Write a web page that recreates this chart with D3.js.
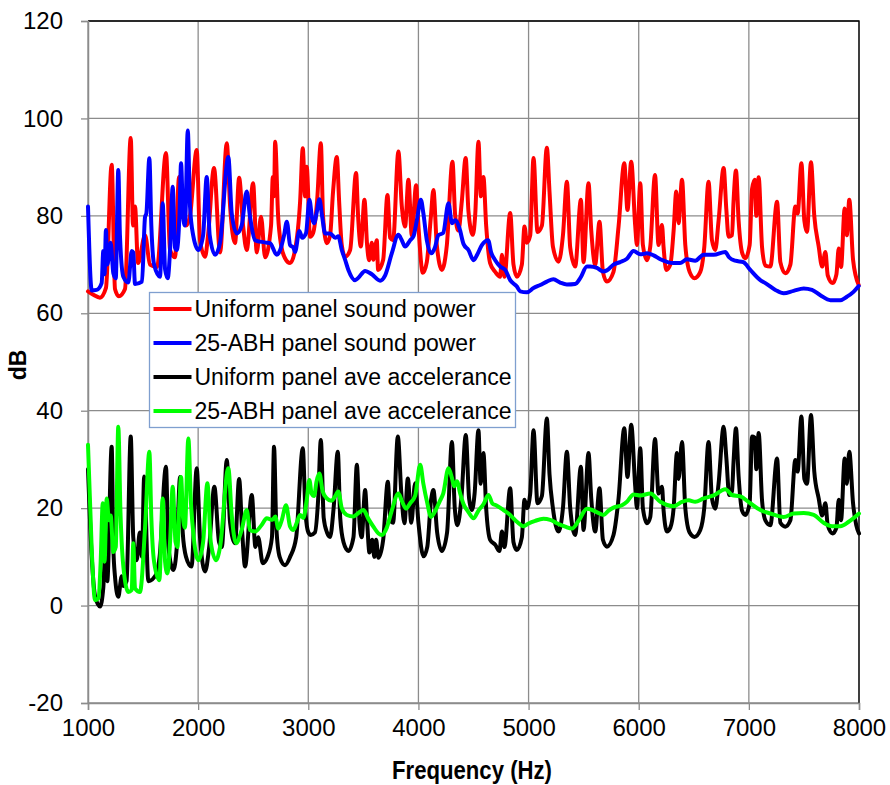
<!DOCTYPE html>
<html>
<head>
<meta charset="utf-8">
<script src="https://cdn.jsdelivr.net/npm/d3@7"></script>
<style>
  body { margin: 0; background: #fff; }
  text { font-family: "Liberation Sans", Arial, sans-serif; fill: #000; }
</style>
</head>
<body>
<script>
//DATA - [frequency (Hz), dB]
var uniformPower = [[1000,64.5],[1048,63.8],[1109,63.2],[1163,65.2],[1215,90.5],[1245,65],[1280,63.5],[1336,65],[1388,96],[1409,78],[1427,81.9],[1454,70.3],[1518,76],[1563,70],[1627,69.5],[1708,92.9],[1745,73],[1790,71.5],[1827,88],[1863,82],[1890,78],[1926,80],[1987,93.5],[2017,75],[2063,71.6],[2090,76],[2144,89.8],[2199,72.5],[2260,94.9],[2290,82],[2335,74.4],[2372,87.8],[2408,78],[2441,73],[2499,86.7],[2532,72.5],[2571,79.8],[2608,71.5],[2662,78],[2678,88],[2689,84],[2699,95.2],[2726,80],[2753,74],[2789,71.3],[2835,70.3],[2880,73],[2926,83],[2950,93.9],[2971,84],[2986,90.1],[3016,75.7],[3044,76.5],[3080,83],[3114,94.9],[3134,80],[3168,74.4],[3198,76],[3225,85],[3259,92.1],[3280,83],[3304,74],[3334,71.6],[3380,73],[3434,88.8],[3452,80],[3477,73.7],[3510,83.3],[3534,74],[3552,70.9],[3577,74.5],[3591,71],[3622,75],[3634,68.9],[3680,71],[3719,84.3],[3743,75.5],[3770,75],[3818,93.2],[3849,82],[3879,77.8],[3909,87.4],[3940,76],[3979,86.3],[4000,78],[4040,68.3],[4076,70.5],[4113,79.8],[4136,85.3],[4167,74],[4213,68.9],[4258,74],[4309,91.1],[4334,80],[4363,77],[4394,83],[4429,91.9],[4454,81],[4494,76.1],[4515,80],[4545,95.2],[4567,84],[4590,88],[4615,78],[4651,70.3],[4697,68.5],[4742,67.5],[4758,72],[4781,67.5],[4833,80.6],[4863,70],[4894,67.5],[4939,70],[4963,77.8],[4985,74.5],[5015,76],[5045,91.9],[5081,76.7],[5121,78],[5166,94],[5190,85],[5221,73.7],[5272,70.6],[5312,76],[5348,87],[5378,73.5],[5423,69.6],[5475,83.3],[5499,70.5],[5544,86.7],[5569,77],[5605,70],[5644,78.8],[5675,68.5],[5711,66.5],[5771,68.5],[5817,77.8],[5869,90.8],[5898,81.2],[5932,91.1],[5968,78],[5984,74],[6014,86.7],[6038,74],[6075,70.9],[6105,73.7],[6148,88.4],[6180,74],[6211,78.1],[6226,73.5],[6250,68.9],[6287,70],[6317,77],[6341,85],[6362,78.5],[6393,87.4],[6423,74],[6462,68.5],[6507,67.2],[6559,68.5],[6595,73.5],[6634,87],[6665,75],[6695,73],[6725,79],[6771,89.8],[6795,81.5],[6816,75.7],[6847,76],[6861,83],[6883,89.3],[6907,79],[6938,72.5],[6968,71.3],[7007,74],[7029,85.5],[7053,87.4],[7068,80],[7089,87.9],[7120,73.5],[7150,69.8],[7195,69.6],[7256,82.9],[7286,70.5],[7331,68.2],[7377,70],[7422,81.9],[7443,80.5],[7477,90.8],[7504,79],[7528,76.7],[7564,91],[7594,80],[7634,73.7],[7665,69.6],[7695,72.6],[7716,67.8],[7761,66.2],[7795,68],[7816,73.3],[7837,69.5],[7870,81.5],[7889,76],[7912,83.3],[7946,71],[7997,65.8]];

var abhPower = [[1000,81.9],[1034,64.7],[1079,64.8],[1124,66.2],[1139,72.8],[1150,68],[1163,77.1],[1175,70],[1206,74.5],[1230,68.2],[1252,67.2],[1275,89.4],[1290,76],[1321,67.5],[1366,66.3],[1397,72.8],[1411,72.5],[1427,66],[1490,66.5],[1518,79.8],[1530,80.5],[1557,91.8],[1575,78],[1600,70],[1654,67.5],[1678,82.6],[1700,69],[1724,67.2],[1745,73],[1769,86],[1790,73.5],[1806,73],[1830,80],[1845,90.8],[1863,80],[1880,78],[1906,97.5],[1926,82],[1955,76],[2002,73],[2045,76],[2078,88],[2105,76],[2154,72],[2199,74.5],[2274,92.1],[2305,80.5],[2351,76.4],[2395,78],[2441,85],[2470,80],[2517,75],[2562,74.7],[2623,74.5],[2653,74.4],[2714,72],[2745,73],[2780,76],[2805,78.8],[2835,74],[2865,73.5],[2880,72.6],[2919,76.9],[2945,75.5],[2980,76.5],[3010,83.3],[3035,79.5],[3053,78.5],[3075,80.5],[3101,83.4],[3125,80],[3153,76.4],[3198,76.4],[3244,75.5],[3273,75.8],[3304,73],[3334,71],[3364,68.9],[3425,66.8],[3455,67.3],[3516,68.7],[3577,68],[3652,66.7],[3698,67.8],[3758,72.3],[3818,76.1],[3849,75],[3879,73.7],[3925,75],[3955,75.8],[3985,79],[4022,83.3],[4045,80.5],[4076,75],[4115,72.3],[4150,73.5],[4180,76],[4225,76.5],[4273,82.6],[4304,78.5],[4334,79.1],[4373,77.4],[4410,74.2],[4454,73],[4500,70.9],[4533,72],[4576,74],[4633,75],[4660,72.5],[4697,70.9],[4742,69.6],[4788,68.9],[4833,66.8],[4894,65.5],[4924,64.5],[4985,64.3],[5045,65.2],[5106,65.8],[5166,66.5],[5226,67],[5287,66.3],[5348,65.9],[5423,66],[5469,67.2],[5530,69.6],[5560,69.6],[5621,69.3],[5678,68.6],[5711,68.8],[5771,70],[5832,70.5],[5893,71.2],[5953,72.8],[6014,72.1],[6075,72.3],[6135,71.9],[6196,71.1],[6317,70.3],[6375,70.3],[6438,71.1],[6513,70.8],[6589,72],[6680,72],[6786,72.6],[6820,71.5],[6877,70.8],[6950,70.5],[7013,68.9],[7104,66.8],[7150,66.2],[7241,64.8],[7316,64.1],[7406,64.6],[7498,65.1],[7573,64.8],[7649,63.7],[7740,62.7],[7831,62.7],[7890,63.4],[7950,64.4],[7997,65.6]];

var uniformAccel = [[1000,28],[1034,10],[1064,2],[1109,-0.2],[1139,3.7],[1154,10],[1175,5],[1215,32.6],[1230,12],[1245,6],[1275,1.8],[1306,6],[1321,4],[1350,5],[1388,34.7],[1411,14],[1442,9.3],[1470,15],[1490,10],[1510,26.5],[1548,5],[1624,6.6],[1650,10],[1708,28.5],[1730,12],[1775,7.3],[1806,12],[1836,26.4],[1860,15],[1890,10],[1940,8],[1987,28.2],[2017,14],[2063,7],[2100,12],[2147,24.4],[2190,13],[2215,12],[2260,29.9],[2290,17],[2335,12.8],[2372,26],[2400,15],[2426,8],[2487,22.7],[2520,12],[2545,14],[2587,8.7],[2630,10],[2670,14],[2689,32.6],[2710,16],[2740,10],[2789,8.3],[2835,10],[2890,14],[2950,32.3],[2975,19],[3001,15],[3023,14.5],[3060,15],[3090,22],[3114,34],[3140,18],[3170,15],[3198,14.1],[3230,20],[3268,31.6],[3290,18],[3320,13],[3364,11.2],[3410,14],[3441,28.9],[3465,17],[3485,14],[3516,23.7],[3535,17],[3555,10.9],[3580,13.5],[3600,10],[3616,13.5],[3637,9.8],[3680,13.5],[3722,25.4],[3745,17.5],[3770,17],[3813,34.7],[3845,23],[3873,16.9],[3904,26.1],[3935,17],[3970,25.1],[4000,17],[4046,10.1],[4080,12],[4115,21.7],[4136,23.7],[4170,15],[4213,11.2],[4260,15],[4304,33.6],[4330,20],[4354,16.5],[4390,22],[4430,35],[4460,22],[4485,19.6],[4510,23],[4545,36],[4565,25],[4590,31.3],[4615,20],[4651,13.5],[4697,12.5],[4736,11.2],[4758,15.2],[4781,12],[4833,24.1],[4863,13],[4894,11.4],[4939,14],[4963,21.7],[4985,20],[5015,23],[5045,36],[5081,21],[5121,22.5],[5166,38.4],[5190,27],[5221,20],[5272,15.2],[5312,20],[5348,31.6],[5378,20],[5423,14.5],[5475,28.5],[5499,15.5],[5544,31.3],[5569,22],[5605,15.2],[5644,24.1],[5675,13.5],[5711,12.1],[5771,14.5],[5817,22],[5869,36.4],[5898,26.4],[5932,37.1],[5968,24.5],[5984,20],[6014,32.3],[6038,20],[6075,16.9],[6105,18.2],[6148,34.2],[6180,23],[6211,24.4],[6226,19.5],[6256,15.2],[6287,16],[6317,20],[6347,31.3],[6362,26],[6393,33.6],[6423,20],[6462,15],[6507,14.1],[6559,15.5],[6595,20],[6634,33.6],[6665,22],[6695,19.9],[6725,25],[6771,36.7],[6795,30.5],[6822,22.7],[6847,23.5],[6861,29.5],[6883,36.4],[6907,26.5],[6938,19.5],[6968,18.6],[7007,21],[7029,34.7],[7053,34.5],[7068,28],[7089,35.4],[7120,21.5],[7150,17.5],[7195,16.5],[7256,30.2],[7286,17],[7331,16.2],[7377,17.5],[7422,29.9],[7443,27.5],[7477,38.8],[7504,26],[7528,25],[7564,39.1],[7594,27.5],[7634,22],[7665,18.5],[7695,21],[7716,16.5],[7761,14.8],[7795,16],[7816,21.7],[7837,17.5],[7870,30.2],[7889,25],[7912,31.6],[7946,21],[7975,16.5],[8000,14.8]];

var abhAccel = [[1000,33],[1034,11.4],[1064,1.1],[1095,1.5],[1115,9],[1134,21],[1150,9],[1170,22],[1190,17.5],[1206,18.5],[1230,11],[1252,12],[1275,36.7],[1295,19],[1321,8],[1366,2.8],[1397,3.2],[1411,12.8],[1427,3.5],[1472,2.8],[1518,16],[1557,31.6],[1575,18],[1600,9],[1648,5.2],[1678,22],[1700,9],[1720,6.6],[1745,13],[1769,24.4],[1795,13],[1812,12],[1830,21],[1845,26.4],[1863,18],[1880,16],[1911,34.3],[1935,21],[1960,14],[2002,9.3],[2045,13],[2084,25.1],[2115,13],[2163,9.3],[2199,12],[2274,28.2],[2305,18.5],[2344,12.8],[2395,15.5],[2441,19.6],[2470,15.5],[2517,15.2],[2575,16.5],[2623,17.9],[2675,17.6],[2700,18.3],[2728,15.8],[2760,17.6],[2798,20.6],[2835,16.2],[2865,15.5],[2895,17],[2926,18.6],[2955,18],[2985,21.5],[3010,25.8],[3030,23],[3053,22.5],[3075,25.5],[3101,27.1],[3130,23.5],[3168,22],[3210,21.5],[3240,22.3],[3273,23.4],[3304,20],[3350,18.6],[3410,18.3],[3455,19],[3501,19.6],[3546,17.8],[3591,16.2],[3637,14.8],[3668,14.5],[3713,16],[3758,19.5],[3818,23],[3849,21.5],[3888,19.9],[3925,21],[3970,22.5],[4016,28.9],[4045,25],[4076,21.5],[4115,18.2],[4150,19.3],[4195,21.5],[4225,23],[4273,28.2],[4304,26.2],[4325,24.5],[4350,25.5],[4379,23],[4410,20.8],[4454,19.2],[4500,17.9],[4545,19.5],[4590,20.8],[4636,22.7],[4670,21],[4712,20.5],[4772,19.6],[4833,18.6],[4894,17.2],[4954,16.3],[4995,16.8],[5060,17.4],[5135,17.8],[5196,17.6],[5257,16.9],[5333,16.2],[5394,15.8],[5454,17.4],[5530,19.9],[5590,19.5],[5681,18.6],[5727,19.5],[5771,20.1],[5848,20.6],[5893,21.3],[5953,22.8],[6014,22.6],[6105,23],[6196,21.3],[6317,20.4],[6393,21.3],[6453,21.6],[6513,21.3],[6589,22],[6680,22.6],[6786,23.9],[6846,22.7],[6922,22.4],[7013,21],[7104,19.6],[7195,18.9],[7316,18.2],[7407,18.9],[7498,19],[7589,18.6],[7679,17],[7755,16.3],[7831,16.3],[7907,17.2],[8000,18.9]];

var seriesNames = ["Uniform panel sound power", "25-ABH panel sound power",
                   "Uniform panel ave accelerance", "25-ABH panel ave accelerance"];
var seriesColors = ["#ff0000", "#0000ff", "#000000", "#00ff00"];
var xTicks = [1000, 2000, 3000, 4000, 5000, 6000, 7000, 8000];
var yTicks = [-20, 0, 20, 40, 60, 80, 100, 120];

var width = 890,
    height = 785;

//PLOT AREA (don't use "top" as a name, window.top is read only)
var plotLeft = 88, plotRight = 859, plotTop = 21, plotBottom = 703;

var x = d3.scaleLinear().domain([1000, 8000]).range([plotLeft, plotRight]);
var y = d3.scaleLinear().domain([-20, 120]).range([plotBottom, plotTop]);

var svg = d3.select("body").append("svg")
    .attr("width", width)
    .attr("height", height);

//GRID
svg.append("g").selectAll("line").data(yTicks)
    .enter().append("line")
    .attr("x1", plotLeft).attr("x2", plotRight)
    .attr("y1", d => y(d)).attr("y2", d => y(d))
    .style("stroke", "#8c8c8c").style("stroke-width", 1.3);

svg.append("g").selectAll("line").data(xTicks)
    .enter().append("line")
    .attr("x1", d => x(d)).attr("x2", d => x(d))
    .attr("y1", plotTop).attr("y2", plotBottom)
    .style("stroke", "#8c8c8c").style("stroke-width", 1.3);

// black border on top / right like the excel plot area
svg.append("path")
    .attr("d", "M" + plotLeft + "," + plotTop + "H" + plotRight + "V" + plotBottom)
    .style("fill", "none").style("stroke", "#000").style("stroke-width", 1.3);

//AXES - plain hyphen for "-20", not d3's unicode minus
var xAxis = svg.append("g")
    .attr("transform", "translate(0," + plotBottom + ")")
    .call(d3.axisBottom(x).tickValues(xTicks).tickSize(7).tickPadding(9).tickFormat(d => String(d)));
var yAxis = svg.append("g")
    .attr("transform", "translate(" + plotLeft + ",0)")
    .call(d3.axisLeft(y).tickValues(yTicks).tickSize(7).tickPadding(18).tickFormat(d => String(d)));

[xAxis, yAxis].forEach(function(a) {
    a.select(".domain").style("stroke", "#8c8c8c").style("stroke-width", 1.5);
    a.selectAll(".tick line").style("stroke", "#8c8c8c").style("stroke-width", 1.3);
    a.selectAll("text").style("font-size", "24px").style("font-family", "'Liberation Sans', Arial, sans-serif");
});

//LINES
var line = d3.line()
    .curve(d3.curveMonotoneX)
    .x(d => x(d[0]))
    .y(d => y(d[1]));

[uniformPower, abhPower, uniformAccel, abhAccel].forEach(function(s, i) {
    svg.append("path")
        .datum(s)
        .attr("d", line)
        .style("fill", "none")
        .style("stroke", seriesColors[i])
        .style("stroke-width", 4)
        .style("stroke-linejoin", "round")
        .style("stroke-linecap", "round");
});

//TITLES
svg.append("text")
    .text("Frequency (Hz)")
    .attr("x", 472)
    .attr("y", 779)
    .attr("text-anchor", "middle")
    .attr("textLength", 160)
    .attr("lengthAdjust", "spacingAndGlyphs")
    .style("font-weight", "bold")
    .style("font-size", "25px");

svg.append("text")
    .text("dB")
    .attr("transform", "translate(26,365) rotate(-90)")
    .attr("text-anchor", "middle")
    .style("font-weight", "bold")
    .style("font-size", "23px");

//LEGEND
var legend = svg.append("g").attr("transform", "translate(149.5,292.5)");
legend.append("rect")
    .attr("width", 366).attr("height", 135)
    .style("fill", "#fff")
    .style("stroke", "#7f9fcf")
    .style("stroke-width", 1.3);

var rows = legend.selectAll("g.row").data(seriesNames)
    .enter().append("g")
    .attr("transform", (d, i) => "translate(0," + (16.5 + i * 34) + ")");
rows.append("line")
    .attr("x1", 4).attr("x2", 42)
    .style("stroke", (d, i) => seriesColors[i])
    .style("stroke-width", 4);
rows.append("text")
    .text(d => d)
    .attr("x", 45)
    .attr("y", 8)
    .style("font-size", "23px");
</script>
</body>
</html>
